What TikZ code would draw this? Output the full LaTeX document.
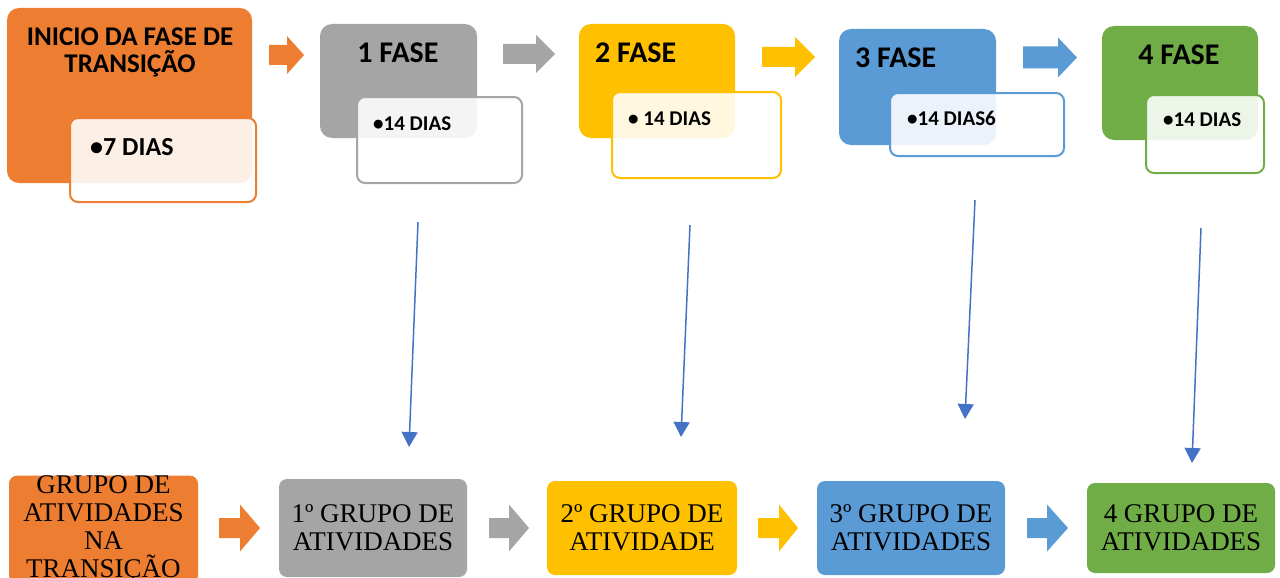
\documentclass[tikz,border=0pt]{standalone}
\usepackage{fontspec}
\setmainfont{Liberation Serif}
\newfontfamily\calibri{Carlito}
\usetikzlibrary{arrows.meta}
\usepackage{xcolor}
\definecolor{corange}{HTML}{ED7D31}
\definecolor{cgray}{HTML}{A5A5A5}
\definecolor{cyellow}{HTML}{FFC000}
\definecolor{cblue}{HTML}{5B9BD5}
\definecolor{cgreen}{HTML}{70AD47}
\definecolor{clink}{HTML}{4472C4}

\begin{document}
\begin{tikzpicture}[x=1pt, y=-1pt,
                phase/.style={rectangle, rounded corners=12pt, fill=#1, inner sep=0pt},
                days/.style={rectangle, rounded corners=8pt, draw=#1, line width=2pt, fill=white, fill opacity=0.88, inner sep=0pt},
                group/.style={rectangle, rounded corners=8pt, fill=#1, inner sep=0pt, align=center, font=\fontsize{27}{28}\selectfont},
                title/.style={inner sep=0pt, align=center, font=\calibri\bfseries\fontsize{30}{28}\selectfont},
                daytext/.style={inner sep=0pt, anchor=base west, font=\calibri\bfseries\fontsize{21}{24}\selectfont},
                link/.style={-{Triangle[width=16pt, length=15pt]}, line width=1.5pt, clink}
            ]
            \useasboundingbox (0,0) rectangle (1280,578);

            % Phases (top row)
            \node[phase=corange, minimum width=245pt, minimum height=175pt] (inicio) at (129.5,95.5) {};
            \node[days=corange, minimum width=186pt, minimum height=84pt] (inicio-d) at (163,160) {};
            \node[title, anchor=base, font=\calibri\bfseries\fontsize{27}{28}\selectfont] (inicio-t) at (130,73) {INICIO DA FASE DE\\TRANSIÇÃO};
            \node[daytext, font=\calibri\bfseries\fontsize{26}{26}\selectfont] (inicio-dt) at (90,155) {•7 DIAS};

            \node[phase=cgray, minimum width=157pt, minimum height=114pt] (fase1) at (398.5,81) {};
            \node[days=cgray, minimum width=165pt, minimum height=86pt] (fase1-d) at (439.5,140) {};
            \node[title, anchor=base] (fase1-t) at (398,63) {1 FASE};
            \node[daytext] (fase1-dt) at (373,130) {•14 DIAS};

            \node[phase=cyellow, minimum width=156pt, minimum height=114pt] (fase2) at (657,81) {};
            \node[days=cyellow, minimum width=169pt, minimum height=86pt] (fase2-d) at (696.5,135) {};
            \node[title, anchor=base west] (fase2-t) at (595,63) {2 FASE};
            \node[daytext] (fase2-dt) at (628,125) {• 14 DIAS};

            \node[phase=cblue, minimum width=157pt, minimum height=116pt] (fase3) at (917.5,87) {};
            \node[days=cblue, minimum width=174pt, minimum height=63pt] (fase3-d) at (977,124.5) {};
            \node[title, anchor=base west] (fase3-t) at (855,68) {3 FASE};
            \node[daytext] (fase3-dt) at (907,125) {•14 DIAS6};

            \node[phase=cgreen, minimum width=156pt, minimum height=114pt] (fase4) at (1180,83) {};
            \node[days=cgreen, minimum width=118pt, minimum height=78pt] (fase4-d) at (1205,134) {};
            \node[title, anchor=base] (fase4-t) at (1179,65) {4 FASE};
            \node[daytext] (fase4-dt) at (1163,126) {•14 DIAS};

            % Groups (bottom row)
            \node[group=corange, minimum width=189pt, minimum height=105pt] (grupo0) at (103.5,529.5) {GRUPO DE\\ATIVIDADES\\NA\\TRANSIÇÃO};
            \node[group=cgray, minimum width=188pt, minimum height=98pt] (grupo1) at (373,528) {1º GRUPO DE\\ATIVIDADES};
            \node[group=cyellow, minimum width=190pt, minimum height=94pt] (grupo2) at (642,528) {2º GRUPO DE\\ATIVIDADE};
            \node[group=cblue, minimum width=188pt, minimum height=94pt] (grupo3) at (911,528) {3º GRUPO DE\\ATIVIDADES};
            \node[group=cgreen, minimum width=188pt, minimum height=90pt] (grupo4) at (1181,528) {4 GRUPO DE\\ATIVIDADES};

            % Block arrows: colour / x start / head start / x end / y centre / half shaft / half head
            \foreach \c/\xa/\xh/\xb/\yc/\hs/\hh in {corange/269/287/304/55/10/19, cgray/503/536/555/54/10/19,
                    cyellow/762/795/815/57/10/20, cblue/1023/1058/1077/57.5/11/20,
                    corange/219/240/260/528/10/23.5, cgray/489/509/529/528/10/23.5,
                    cyellow/758/779/798/528/10/23.5, cblue/1027/1047/1068/528/10/23.5}
                \fill[\c] (\xa,\yc-\hs) -- (\xh,\yc-\hs) -- (\xh,\yc-\hh) -- (\xb,\yc)
                    -- (\xh,\yc+\hh) -- (\xh,\yc+\hs) -- (\xa,\yc+\hs) -- cycle;

            % Links phase -> group
            \coordinate (l1a) at (418,222); \coordinate (l1b) at (409,447);
            \coordinate (l2a) at (690,225); \coordinate (l2b) at (681,437);
            \coordinate (l3a) at (975,200); \coordinate (l3b) at (965,419);
            \coordinate (l4a) at (1201,228); \coordinate (l4b) at (1192,463);
            \draw[link] (l1a) -- (l1b);
            \draw[link] (l2a) -- (l2b);
            \draw[link] (l3a) -- (l3b);
            \draw[link] (l4a) -- (l4b);
        \end{tikzpicture}
\end{document}
